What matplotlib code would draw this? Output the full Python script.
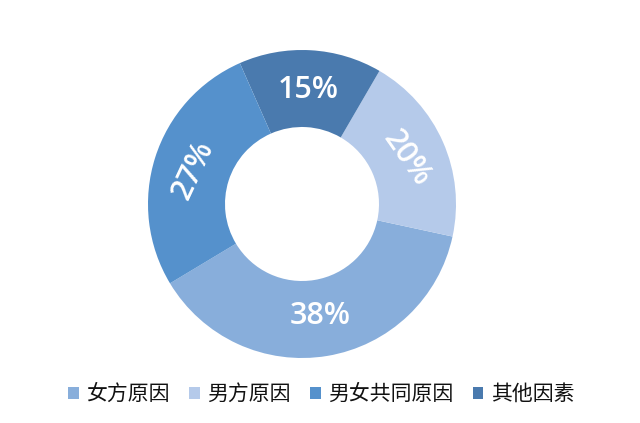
import numpy as np
import matplotlib
matplotlib.use("Agg")
import matplotlib.pyplot as plt
from matplotlib.patches import Patch

plt.rcParams['font.family'] = ['Noto Sans CJK SC', 'DejaVu Sans']

# data (legend order)
categories = ['女方原因', '男方原因', '男女共同原因', '其他因素']
values = [38, 20, 27, 15]
colors = ['#88AEDB', '#B5CAEA', '#5591CC', '#4A7AAE']

# drawing order around the ring (counter-clockwise)
draw_order = [0, 1, 3, 2]
label_rot = {0: 0, 1: -55, 2: 65, 3: 0}

fig = plt.figure(figsize=(6.4, 4.23), dpi=100)
ax = fig.add_axes([148/640, 65/423, 308/640, 308/423])

vals = [values[i] for i in draw_order]
cols = [colors[i] for i in draw_order]
wedges, _ = ax.pie(vals, colors=cols, startangle=211, counterclock=True,
                   radius=1.0, wedgeprops=dict(width=0.5, edgecolor='none'))

for w, idx in zip(wedges, draw_order):
    mid = np.deg2rad((w.theta1 + w.theta2) / 2)
    r = 0.74
    ax.text(r*np.cos(mid), r*np.sin(mid), f'{values[idx]}%', color='white',
            fontsize=22, fontweight=600, family=['Open Sans', 'DejaVu Sans'],
            ha='center', va='center', rotation=label_rot[idx],
            rotation_mode='anchor')

ax.set_xlim(-1, 1)
ax.set_ylim(-1, 1)
ax.set_aspect('equal')
ax.axis('off')

handles = [Patch(facecolor=c, edgecolor='none') for c in colors]
fig.legend(handles, categories, loc='center', bbox_to_anchor=(0.502, 0.068),
           ncol=4, frameon=False, fontsize=15, handlelength=0.5,
           handleheight=0.5, handletextpad=0.35, columnspacing=0.95,
           labelcolor='#111111')

fig.savefig('out.png', dpi=100, facecolor='white')
